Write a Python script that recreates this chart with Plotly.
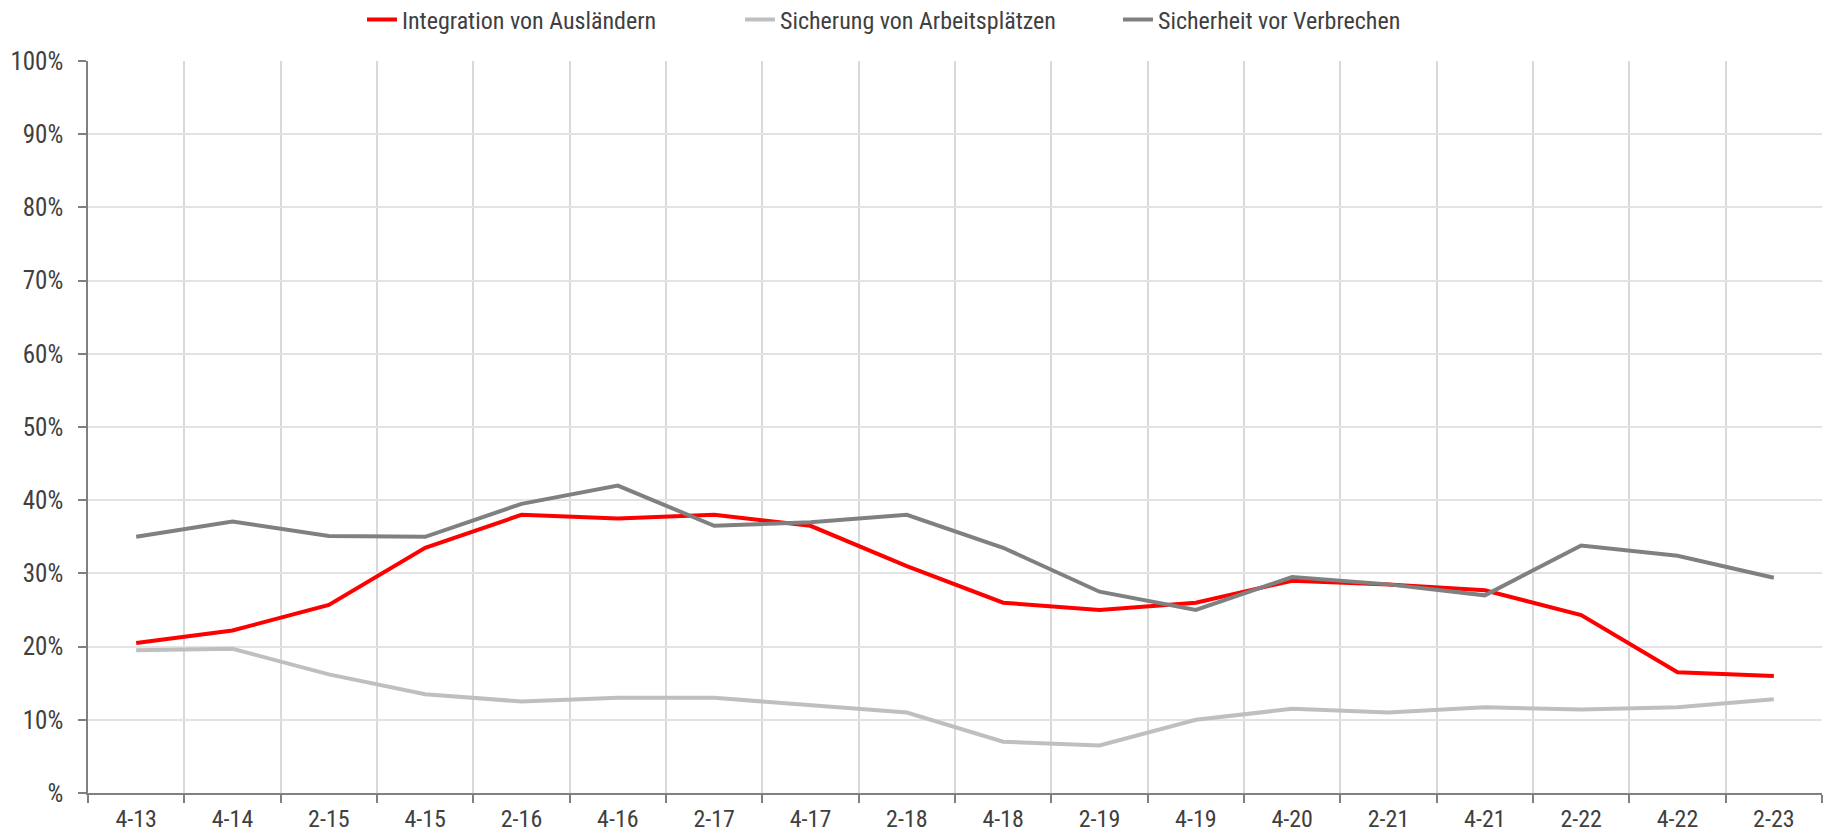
import plotly.graph_objects as go

categories = ["4-13", "4-14", "2-15", "4-15", "2-16", "4-16", "2-17", "4-17", "2-18",
              "4-18", "2-19", "4-19", "4-20", "2-21", "4-21", "2-22", "4-22", "2-23"]
integration = [20.5, 22.2, 25.7, 33.5, 38.0, 37.5, 38.0, 36.5, 31.0,
               26.0, 25.0, 26.0, 29.0, 28.5, 27.7, 24.3, 16.5, 16.0]
arbeitsplaetze = [19.5, 19.7, 16.2, 13.5, 12.5, 13.0, 13.0, 12.0, 11.0,
                  7.0, 6.5, 10.0, 11.5, 11.0, 11.7, 11.4, 11.7, 12.8]
verbrechen = [35.0, 37.1, 35.1, 35.0, 39.5, 42.0, 36.5, 37.0, 38.0,
              33.5, 27.5, 25.0, 29.5, 28.5, 27.0, 33.8, 32.4, 29.4]
series_names = ["Integration von Ausländern", "Sicherung von Arbeitsplätzen", "Sicherheit vor Verbrechen"]
ytick_vals = [0, 10, 20, 30, 40, 50, 60, 70, 80, 90, 100]
ytick_text = ["%", "10%", "20%", "30%", "40%", "50%", "60%", "70%", "80%", "90%", "100%"]

FONT = "Liberation Sans Narrow, Roboto Condensed, Arial Narrow, Liberation Sans, sans-serif"

fig = go.Figure()
for name, vals, col in [(series_names[0], integration, "#FF0000"),
                        (series_names[1], arbeitsplaetze, "#BFBFBF"),
                        (series_names[2], verbrechen, "#808080")]:
    fig.add_trace(go.Scatter(x=categories, y=vals, name=name, mode="lines",
                             line=dict(color=col, width=4)))

fig.update_layout(
    width=1829, height=837,
    margin=dict(l=88, r=7, t=61, b=44, autoexpand=False),
    paper_bgcolor="white", plot_bgcolor="white",
    font=dict(family=FONT, size=24, color="#404040"),
    showlegend=True,
    legend=dict(orientation="h", x=0.158, xanchor="left", y=1.056,
                yanchor="middle", font=dict(size=24, color="#404040"),
                entrywidth=333, entrywidthmode="pixels", tracegroupgap=0),
    xaxis=dict(type="category", tickson="boundaries", showgrid=True, gridcolor="#D9D9D9",
               gridwidth=1.5, showline=True, linecolor="#808080", linewidth=1.5,
               ticks="outside", ticklen=8, tickcolor="#808080", tickwidth=1.5,
               tickfont=dict(size=24, color="#404040"), range=[-0.5, 17.5],
               ticklabelstandoff=3, automargin=False),
    yaxis=dict(range=[0, 100], tickvals=ytick_vals, ticktext=ytick_text,
               showgrid=True, gridcolor="#E3E3E3", gridwidth=1.5,
               showline=True, linecolor="#808080", linewidth=1.5,
               ticks="outside", ticklen=8, tickcolor="#808080", tickwidth=1.5,
               tickfont=dict(size=25, color="#404040"), zeroline=False,
               ticklabelstandoff=10, automargin=False),
)

fig.write_html("out.html", config={"displayModeBar": False},
               post_script="document.body.style.margin='0';")
